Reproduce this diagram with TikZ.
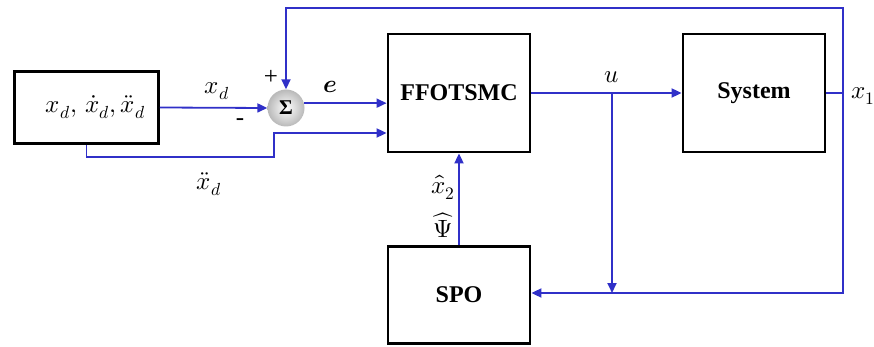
\documentclass[tikz,border=0pt]{standalone}
\usepackage{fontspec}
\usepackage{unicode-math}
\setmainfont{Liberation Serif}
\setmathfont{Latin Modern Math}
\usetikzlibrary{arrows.meta, positioning}
\definecolor{linkblue}{RGB}{48,48,200}
\tikzset{
  >={Triangle[length=10pt,width=9pt]}, % filled arrow heads
  block/.style={draw, line width=2.8pt, minimum width=142pt,
    minimum height=118pt, font=\fontsize{24}{28}\selectfont\bfseries},
  link/.style={draw=linkblue, line width=1.8pt}, % blue signal lines
  sig/.style={font=\fontsize{25}{29}\selectfont, inner sep=0pt},
}

\begin{document}
\begin{tikzpicture}[x=1pt,y=-1pt,node distance=295pt]
    \useasboundingbox (0,0) rectangle (874,347);

    \node[block, minimum height=72pt, minimum width=144pt,
      font=\fontsize{25}{29}\selectfont] (ref) at (86.5,107.5)
      {\hspace*{18pt}$x_d,\,\dot{x}_d,\ddot{x}_d$};
    \node[circle, minimum size=37pt, inner sep=0pt, shading=radial,
      inner color=white, outer color=gray!55,
      font=\fontsize{21}{25}\selectfont\bfseries]
      (sum) at (286,108) {Σ};
    \node[block] (ffot) at (459,93) {FFOTSMC};
    \node[block, right of=ffot] (sys) {System};
    \node[block, below of=ffot, node distance=202pt,
      minimum height=97pt] (spo) {SPO};

    \coordinate (fbtop) at (843,8);
    \coordinate (fbbot) at (843,293);
    \coordinate (ubranch) at (612,93);
    \coordinate (kink) at (274,157);

    \draw[link,->] (ref.east) -- (sum.west);
    \draw[link,->] (sum.15) -- (sum.15 -| ffot.west);
    \draw[link,->] (ref.south) |- (kink) |- ([yshift=-40pt]ffot.west);
    \draw[link,->] (ffot.east) -- (sys.west);
    \draw[link,->] (ubranch) -- (ubranch |- fbbot);
    \draw[link,->] (sys.east) -| (fbtop) -| (sum.north);
    \draw[link,->] (sys.east) -| (fbbot) -- (fbbot -| spo.east);
    \draw[link,->] (spo.north) -- (ffot.south);

    % signal labels
    \node[sig] (lxd) at (217,91) {$x_d$};
    \node[sig] (lminus) at (240,122) {-};
    \node[sig] (lplus) at (271,77) {+};
    \node[sig] (le) at (330,87) {$\symbfit{e}$};
    \node[sig] (lxdd) at (209,184) {$\ddot{x}_d$};
    \node[sig] (lu) at (612,77) {$u$};
    \node[sig] (lx1) at (863,96) {$x_1$};
    \node[sig, align=center] (lobs) at (443,206)
      {$\hat{x}_2$\\[12pt]$\widehat{\Psi}$};
\end{tikzpicture}
\end{document}
